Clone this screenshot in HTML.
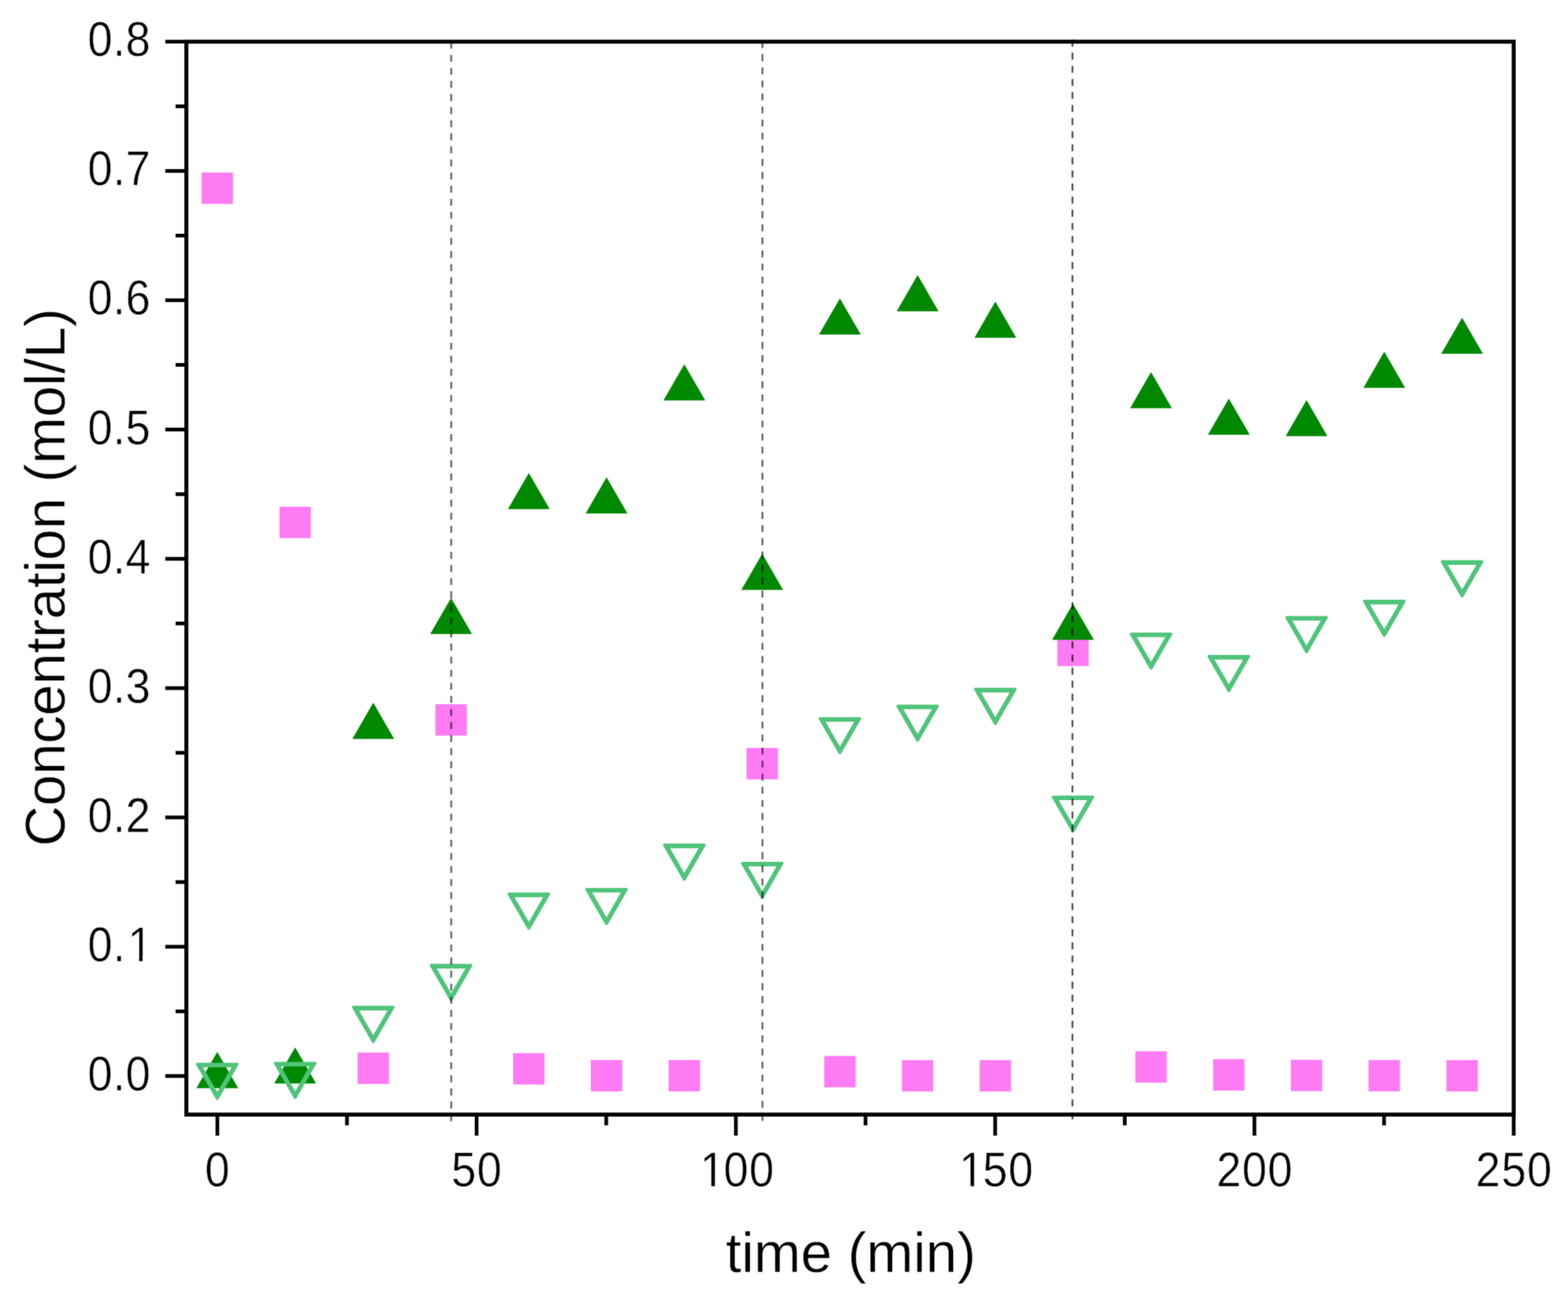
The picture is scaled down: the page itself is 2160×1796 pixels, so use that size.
<!DOCTYPE html>
<html lang="en"><head><meta charset="utf-8"><title>Concentration vs time</title>
<style>html,body{margin:0;padding:0;background:#fff}body{width:2160px;height:1796px}svg{display:block}text{font-family:"Liberation Sans",Arial,sans-serif;fill:#000;text-rendering:geometricPrecision}.tk{font-size:65px;stroke:#fff;stroke-width:0.6px}.lb{font-size:77.5px;stroke:#fff;stroke-width:0.5px}</style></head><body>
<svg width="2160" height="1796" viewBox="0 0 2160 1796">
<defs><filter id="soft" filterUnits="userSpaceOnUse" x="0" y="0" width="2160" height="1796" color-interpolation-filters="sRGB"><feConvolveMatrix order="3" kernelMatrix="0.02890 0.11220 0.02890 0.11220 0.43560 0.11220 0.02890 0.11220 0.02890" divisor="1" bias="0" edgeMode="duplicate" preserveAlpha="true"/></filter></defs>
<rect width="2160" height="1796" fill="#fff"/>
<g filter="url(#soft)">
<rect width="2160" height="1796" fill="#fff"/>
<g fill="#ff7bf4">
<rect x="277.70" y="237.60" width="43.20" height="43.20"/>
<rect x="385.00" y="698.00" width="43.20" height="43.20"/>
<rect x="492.60" y="1449.70" width="43.20" height="43.20"/>
<rect x="599.80" y="969.90" width="43.20" height="43.20"/>
<rect x="706.90" y="1450.50" width="43.20" height="43.20"/>
<rect x="813.95" y="1460.00" width="43.20" height="43.20"/>
<rect x="921.10" y="1460.00" width="43.20" height="43.20"/>
<rect x="1028.40" y="1030.20" width="43.20" height="43.20"/>
<rect x="1135.40" y="1454.40" width="43.20" height="43.20"/>
<rect x="1242.45" y="1460.10" width="43.20" height="43.20"/>
<rect x="1349.55" y="1460.10" width="43.20" height="43.20"/>
<rect x="1456.50" y="874.20" width="43.20" height="43.20"/>
<rect x="1564.00" y="1447.90" width="43.20" height="43.20"/>
<rect x="1671.20" y="1458.80" width="43.20" height="43.20"/>
<rect x="1778.25" y="1459.60" width="43.20" height="43.20"/>
<rect x="1885.30" y="1460.00" width="43.20" height="43.20"/>
<rect x="1992.50" y="1460.10" width="43.20" height="43.20"/>
</g>
<g fill="#008800">
<polygon points="299.30,1448.74 328.10,1498.63 270.50,1498.63"/>
<polygon points="406.60,1442.44 435.40,1492.33 377.80,1492.33"/>
<polygon points="514.20,967.74 543.00,1017.63 485.40,1017.63"/>
<polygon points="621.40,823.44 650.20,873.33 592.60,873.33"/>
<polygon points="728.50,651.44 757.30,701.33 699.70,701.33"/>
<polygon points="835.55,657.24 864.35,707.13 806.75,707.13"/>
<polygon points="942.70,501.64 971.50,551.53 913.90,551.53"/>
<polygon points="1050.00,762.64 1078.80,812.53 1021.20,812.53"/>
<polygon points="1157.00,410.94 1185.80,460.83 1128.20,460.83"/>
<polygon points="1264.05,378.74 1292.85,428.63 1235.25,428.63"/>
<polygon points="1371.15,415.24 1399.95,465.13 1342.35,465.13"/>
<polygon points="1478.10,831.44 1506.90,881.33 1449.30,881.33"/>
<polygon points="1585.60,512.44 1614.40,562.33 1556.80,562.33"/>
<polygon points="1692.80,548.94 1721.60,598.83 1664.00,598.83"/>
<polygon points="1799.85,550.94 1828.65,600.83 1771.05,600.83"/>
<polygon points="1906.90,484.34 1935.70,534.23 1878.10,534.23"/>
<polygon points="2014.10,437.44 2042.90,487.33 1985.30,487.33"/>
</g>
<g fill="#4fc47a" fill-rule="evenodd">
<path d="M269.77 1465.75 L270.98 1463.65 L327.62 1463.65 L328.83 1465.75 L300.51 1514.80 L298.09 1514.80Z M279.64 1470.05 L299.30 1504.10 L318.96 1470.05Z"/>
<path d="M377.07 1464.55 L378.28 1462.45 L434.92 1462.45 L436.13 1464.55 L407.81 1513.60 L405.39 1513.60Z M386.94 1468.85 L406.60 1502.90 L426.26 1468.85Z"/>
<path d="M484.67 1387.35 L485.88 1385.25 L542.52 1385.25 L543.73 1387.35 L515.41 1436.40 L512.99 1436.40Z M494.54 1391.65 L514.20 1425.70 L533.86 1391.65Z"/>
<path d="M591.87 1329.65 L593.08 1327.55 L649.72 1327.55 L650.93 1329.65 L622.61 1378.70 L620.19 1378.70Z M601.74 1333.95 L621.40 1368.00 L641.06 1333.95Z"/>
<path d="M698.97 1231.45 L700.18 1229.35 L756.82 1229.35 L758.03 1231.45 L729.71 1280.50 L727.29 1280.50Z M708.84 1235.75 L728.50 1269.80 L748.16 1235.75Z"/>
<path d="M806.02 1225.05 L807.23 1222.95 L863.87 1222.95 L865.08 1225.05 L836.76 1274.10 L834.34 1274.10Z M815.89 1229.35 L835.55 1263.40 L855.21 1229.35Z"/>
<path d="M913.17 1163.95 L914.38 1161.85 L971.02 1161.85 L972.23 1163.95 L943.91 1213.00 L941.49 1213.00Z M923.04 1168.25 L942.70 1202.30 L962.36 1168.25Z"/>
<path d="M1020.47 1189.05 L1021.68 1186.95 L1078.32 1186.95 L1079.53 1189.05 L1051.21 1238.10 L1048.79 1238.10Z M1030.34 1193.35 L1050.00 1227.40 L1069.66 1193.35Z"/>
<path d="M1127.47 989.75 L1128.68 987.65 L1185.32 987.65 L1186.53 989.75 L1158.21 1038.80 L1155.79 1038.80Z M1137.34 994.05 L1157.00 1028.10 L1176.66 994.05Z"/>
<path d="M1234.52 972.55 L1235.73 970.45 L1292.37 970.45 L1293.58 972.55 L1265.26 1021.60 L1262.84 1021.60Z M1244.39 976.85 L1264.05 1010.90 L1283.71 976.85Z"/>
<path d="M1341.62 949.35 L1342.83 947.25 L1399.47 947.25 L1400.68 949.35 L1372.36 998.40 L1369.94 998.40Z M1351.49 953.65 L1371.15 987.70 L1390.81 953.65Z"/>
<path d="M1448.57 1097.75 L1449.78 1095.65 L1506.42 1095.65 L1507.63 1097.75 L1479.31 1146.80 L1476.89 1146.80Z M1458.44 1102.05 L1478.10 1136.10 L1497.76 1102.05Z"/>
<path d="M1556.07 873.25 L1557.28 871.15 L1613.92 871.15 L1615.13 873.25 L1586.81 922.30 L1584.39 922.30Z M1565.94 877.55 L1585.60 911.60 L1605.26 877.55Z"/>
<path d="M1663.27 904.15 L1664.48 902.05 L1721.12 902.05 L1722.33 904.15 L1694.01 953.20 L1691.59 953.20Z M1673.14 908.45 L1692.80 942.50 L1712.46 908.45Z"/>
<path d="M1770.32 850.55 L1771.53 848.45 L1828.17 848.45 L1829.38 850.55 L1801.06 899.60 L1798.64 899.60Z M1780.19 854.85 L1799.85 888.90 L1819.51 854.85Z"/>
<path d="M1877.37 828.15 L1878.58 826.05 L1935.22 826.05 L1936.43 828.15 L1908.11 877.20 L1905.69 877.20Z M1887.24 832.45 L1906.90 866.50 L1926.56 832.45Z"/>
<path d="M1984.57 773.65 L1985.78 771.55 L2042.42 771.55 L2043.63 773.65 L2015.31 822.70 L2012.89 822.70Z M1994.44 777.95 L2014.10 812.00 L2033.76 777.95Z"/>
</g>
<line x1="621.55" y1="57.45" x2="621.55" y2="1544.50" stroke="#000" stroke-opacity="0.52" stroke-width="3" stroke-dasharray="9.6 8.42" fill="none"/>
<line x1="1050.30" y1="56.60" x2="1050.30" y2="1544.50" stroke="#000" stroke-opacity="0.6" stroke-width="2.6" stroke-dasharray="9.6 8.42" fill="none"/>
<line x1="1477.35" y1="54.60" x2="1477.35" y2="1544.50" stroke="#000" stroke-opacity="0.75" stroke-width="2.3" stroke-dasharray="9.6 8.42" fill="none"/>
<rect x="256.70" y="57.40" width="1828.50" height="1477.70" fill="none" stroke="#000" stroke-width="5.5"/>
<g stroke="#000" stroke-width="5.1" fill="none">
<line x1="299.40" y1="1535.10" x2="299.40" y2="1564.10"/>
<line x1="477.98" y1="1535.10" x2="477.98" y2="1549.90"/>
<line x1="656.56" y1="1535.10" x2="656.56" y2="1564.10"/>
<line x1="835.14" y1="1535.10" x2="835.14" y2="1549.90"/>
<line x1="1013.72" y1="1535.10" x2="1013.72" y2="1564.10"/>
<line x1="1192.30" y1="1535.10" x2="1192.30" y2="1549.90"/>
<line x1="1370.88" y1="1535.10" x2="1370.88" y2="1564.10"/>
<line x1="1549.46" y1="1535.10" x2="1549.46" y2="1549.90"/>
<line x1="1728.04" y1="1535.10" x2="1728.04" y2="1564.10"/>
<line x1="1906.62" y1="1535.10" x2="1906.62" y2="1549.90"/>
<line x1="2085.20" y1="1535.10" x2="2085.20" y2="1564.10"/>
<line x1="256.70" y1="1482.00" x2="227.70" y2="1482.00"/>
<line x1="256.70" y1="1392.96" x2="241.90" y2="1392.96"/>
<line x1="256.70" y1="1303.92" x2="227.70" y2="1303.92"/>
<line x1="256.70" y1="1214.88" x2="241.90" y2="1214.88"/>
<line x1="256.70" y1="1125.84" x2="227.70" y2="1125.84"/>
<line x1="256.70" y1="1036.80" x2="241.90" y2="1036.80"/>
<line x1="256.70" y1="947.76" x2="227.70" y2="947.76"/>
<line x1="256.70" y1="858.72" x2="241.90" y2="858.72"/>
<line x1="256.70" y1="769.68" x2="227.70" y2="769.68"/>
<line x1="256.70" y1="680.64" x2="241.90" y2="680.64"/>
<line x1="256.70" y1="591.60" x2="227.70" y2="591.60"/>
<line x1="256.70" y1="502.56" x2="241.90" y2="502.56"/>
<line x1="256.70" y1="413.52" x2="227.70" y2="413.52"/>
<line x1="256.70" y1="324.48" x2="241.90" y2="324.48"/>
<line x1="256.70" y1="235.44" x2="227.70" y2="235.44"/>
<line x1="256.70" y1="146.40" x2="241.90" y2="146.40"/>
<line x1="256.70" y1="57.36" x2="227.70" y2="57.36"/>
</g>
<text class="tk" transform="translate(299.40 1634.30) scale(0.945 1.035)" x="-18.07">0</text>
<text class="tk" transform="translate(656.56 1634.30) scale(0.945 1.035)" x="-36.75 0.60">50</text>
<text class="tk" transform="translate(1013.72 1634.30) scale(0.945 1.035)" x="-52.42 -18.07 19.27">100</text><rect x="967.91" y="1628.24" width="12.00" height="7.26" fill="#fff"/><rect x="984.77" y="1628.24" width="11.52" height="7.26" fill="#fff"/>
<text class="tk" transform="translate(1370.88 1634.30) scale(0.945 1.035)" x="-52.42 -18.07 19.27">150</text><rect x="1325.07" y="1628.24" width="12.00" height="7.26" fill="#fff"/><rect x="1341.93" y="1628.24" width="11.52" height="7.26" fill="#fff"/>
<text class="tk" transform="translate(1728.04 1634.30) scale(0.945 1.035)" x="-55.42 -18.07 19.27">200</text>
<text class="tk" transform="translate(2085.20 1634.30) scale(0.945 1.035)" x="-55.42 -18.07 19.27">250</text>
<text class="tk" transform="translate(207.20 1501.90) scale(0.945 1.035)" x="-91.56 -54.81 -36.15">0.0</text>
<text class="tk" transform="translate(207.20 1323.82) scale(0.945 1.035)" x="-91.56 -54.81 -33.15">0.1</text><rect x="179.61" y="1317.76" width="12.00" height="7.26" fill="#fff"/><rect x="196.46" y="1317.76" width="11.52" height="7.26" fill="#fff"/>
<text class="tk" transform="translate(207.20 1145.74) scale(0.945 1.035)" x="-91.56 -54.81 -36.15">0.2</text>
<text class="tk" transform="translate(207.20 967.66) scale(0.945 1.035)" x="-91.56 -54.81 -36.15">0.3</text>
<text class="tk" transform="translate(207.20 789.58) scale(0.945 1.035)" x="-91.56 -54.81 -36.15">0.4</text>
<text class="tk" transform="translate(207.20 611.50) scale(0.945 1.035)" x="-91.56 -54.81 -36.15">0.5</text>
<text class="tk" transform="translate(207.20 433.42) scale(0.945 1.035)" x="-91.56 -54.81 -36.15">0.6</text>
<text class="tk" transform="translate(207.20 255.34) scale(0.945 1.035)" x="-91.56 -54.81 -36.15">0.7</text>
<text class="tk" transform="translate(207.20 77.26) scale(0.945 1.035)" x="-91.56 -54.81 -36.15">0.8</text>
<text class="lb" text-anchor="middle" x="1172.00" y="1751.80">time (min)</text>
<text class="lb" style="letter-spacing:-0.2px" text-anchor="middle" transform="translate(88.70 795.30) rotate(-90)">Concentration (mol/L)</text>
</g>
</svg></body></html>
